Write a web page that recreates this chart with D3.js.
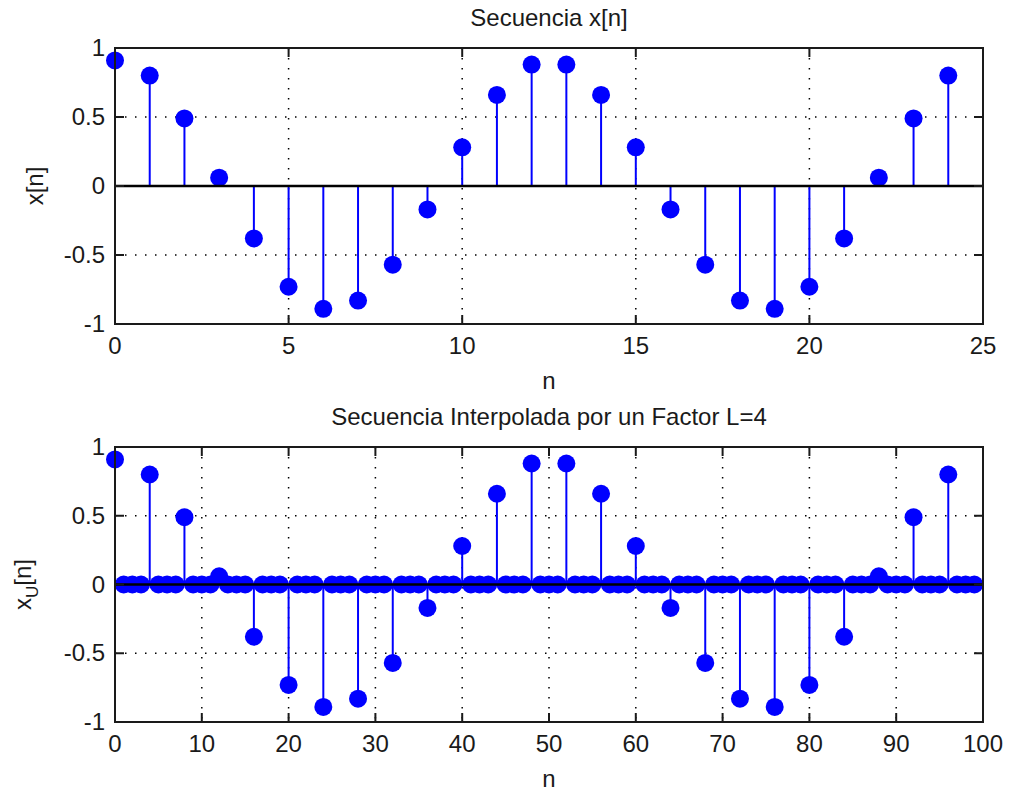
<!DOCTYPE html>
<html>
<head>
<meta charset="utf-8">
<script src="https://cdn.jsdelivr.net/npm/d3@7"></script>
<style>
  html, body { margin: 0; padding: 0; background: #fff; }
  svg { display: block; }
  text { font-family: "Liberation Sans", Arial, sans-serif; fill: #1a1a1a; }
</style>
</head>
<body>
<svg id="chart" width="1009" height="792"></svg>
<script>
// ---- Data ----
const nTop = [0,1,2,3,4,5,6,7,8,9,10,11,12,13,14,15,16,17,18,19,20,21,22,23,24];
const xValues = [0.91, 0.80, 0.49, 0.06, -0.38, -0.73, -0.89, -0.83, -0.57, -0.17,
                 0.28, 0.66, 0.88, 0.88, 0.66, 0.28, -0.17, -0.57, -0.83, -0.89,
                 -0.73, -0.38, 0.06, 0.49, 0.80];
const nBottom = d3.range(0, 100);
const xuValues = [
  0.91, 0, 0, 0, 0.80, 0, 0, 0, 0.49, 0, 0, 0, 0.06, 0, 0, 0, -0.38, 0, 0, 0,
  -0.73, 0, 0, 0, -0.89, 0, 0, 0, -0.83, 0, 0, 0, -0.57, 0, 0, 0, -0.17, 0, 0, 0,
  0.28, 0, 0, 0, 0.66, 0, 0, 0, 0.88, 0, 0, 0, 0.88, 0, 0, 0, 0.66, 0, 0, 0,
  0.28, 0, 0, 0, -0.17, 0, 0, 0, -0.57, 0, 0, 0, -0.83, 0, 0, 0, -0.89, 0, 0, 0,
  -0.73, 0, 0, 0, -0.38, 0, 0, 0, 0.06, 0, 0, 0, 0.49, 0, 0, 0, 0.80, 0, 0, 0
];
const xTicksTop = [0, 5, 10, 15, 20, 25];
const xTicksBottom = [0, 10, 20, 30, 40, 50, 60, 70, 80, 90, 100];
const yTicks = [-1, -0.5, 0, 0.5, 1];
const titleTop = "Secuencia x[n]";
const titleBottom = "Secuencia Interpolada por un Factor L=4";

const svg = d3.select("#chart");
const BLUE = "#0000ff";
const FS = 24;

function panel(cfg) {
  const {left, right, top, bottom, xDomain, xTicks, ns, vals, title, ylabelFn, ylabelX} = cfg;
  const x = d3.scaleLinear().domain(xDomain).range([left, right]);
  const y = d3.scaleLinear().domain([-1, 1]).range([bottom, top]);
  const g = svg.append("g");

  // grid (dotted)
  g.selectAll(".gx").data(xTicks.filter(t => t !== xDomain[0] && t !== xDomain[1]))
    .enter().append("line")
    .attr("x1", d => x(d)).attr("x2", d => x(d))
    .attr("y1", top).attr("y2", bottom)
    .attr("stroke", "#000").attr("stroke-width", 1.5)
    .attr("stroke-dasharray", "1.5,8.5");
  g.selectAll(".gy").data(yTicks.filter(t => t !== -1 && t !== 1))
    .enter().append("line")
    .attr("x1", left).attr("x2", right)
    .attr("y1", d => y(d)).attr("y2", d => y(d))
    .attr("stroke", "#000").attr("stroke-width", 1.5)
    .attr("stroke-dasharray", "1.5,8.5");

  const data = ns.map((n, i) => ({n, v: vals[i]}));
  // stems
  g.selectAll(".stem").data(data).enter().append("line")
    .attr("x1", d => x(d.n)).attr("x2", d => x(d.n))
    .attr("y1", y(0)).attr("y2", d => y(d.v))
    .attr("stroke", BLUE).attr("stroke-width", 2);
  // markers
  g.selectAll(".dot").data(data).enter().append("circle")
    .attr("cx", d => x(d.n)).attr("cy", d => y(d.v))
    .attr("r", 9).attr("fill", BLUE);
  // baseline
  g.append("line")
    .attr("x1", left).attr("x2", right)
    .attr("y1", y(0)).attr("y2", y(0))
    .attr("stroke", "#000").attr("stroke-width", 2.5);

  // box
  g.append("rect").attr("x", left).attr("y", top)
    .attr("width", right - left).attr("height", bottom - top)
    .attr("fill", "none").attr("stroke", "#1a1a1a").attr("stroke-width", 2);

  // ticks (inward, both sides)
  const TL = 9;
  xTicks.forEach(t => {
    g.append("line").attr("x1", x(t)).attr("x2", x(t)).attr("y1", bottom).attr("y2", bottom - TL)
      .attr("stroke", "#1a1a1a").attr("stroke-width", 2);
    g.append("line").attr("x1", x(t)).attr("x2", x(t)).attr("y1", top).attr("y2", top + TL)
      .attr("stroke", "#1a1a1a").attr("stroke-width", 2);
  });
  yTicks.forEach(t => {
    g.append("line").attr("x1", left).attr("x2", left + TL).attr("y1", y(t)).attr("y2", y(t))
      .attr("stroke", "#1a1a1a").attr("stroke-width", 2);
    g.append("line").attr("x1", right).attr("x2", right - TL).attr("y1", y(t)).attr("y2", y(t))
      .attr("stroke", "#1a1a1a").attr("stroke-width", 2);
  });

  // tick labels
  g.selectAll(".xl").data(xTicks).enter().append("text")
    .attr("x", d => x(d)).attr("y", bottom + 30)
    .attr("text-anchor", "middle").attr("font-size", FS)
    .text(d => d);
  g.selectAll(".yl").data(yTicks).enter().append("text")
    .attr("x", left - 10).attr("y", d => y(d) + 8)
    .attr("text-anchor", "end").attr("font-size", FS)
    .text(d => d);

  // title
  g.append("text").attr("x", (left + right) / 2).attr("y", top - 22)
    .attr("text-anchor", "middle").attr("font-size", FS).text(title);
  // xlabel
  g.append("text").attr("x", (left + right) / 2).attr("y", bottom + 65)
    .attr("text-anchor", "middle").attr("font-size", FS).text("n");
  // ylabel
  const yl = g.append("text")
    .attr("transform", `translate(${ylabelX},${(top + bottom) / 2}) rotate(-90)`)
    .attr("text-anchor", "middle").attr("font-size", FS);
  ylabelFn(yl);
}

panel({
  left: 115, right: 983, top: 48, bottom: 324,
  xDomain: [0, 25], xTicks: xTicksTop, ns: nTop, vals: xValues,
  title: titleTop, ylabelX: 43,
  ylabelFn: t => t.text("x[n]")
});
panel({
  left: 115, right: 983, top: 447, bottom: 722,
  xDomain: [0, 100], xTicks: xTicksBottom, ns: nBottom, vals: xuValues,
  title: titleBottom, ylabelX: 31,
  ylabelFn: t => {
    t.append("tspan").text("x");
    t.append("tspan").attr("font-size", 17).attr("dy", 7).text("U");
    t.append("tspan").attr("dy", -7).text("[n]");
  }
});
</script>
</body>
</html>
